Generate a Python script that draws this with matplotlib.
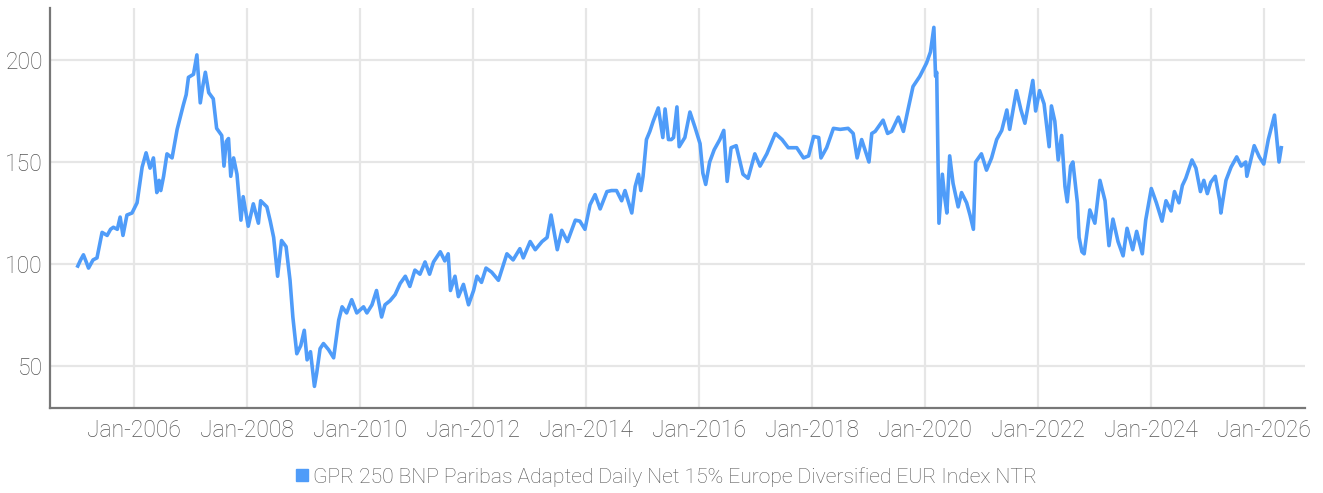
import datetime as dt
import matplotlib
matplotlib.use("Agg")
import matplotlib.pyplot as plt
import matplotlib.dates as mdates
from matplotlib.lines import Line2D

series_name = "GPR 250 BNP Paribas Adapted Daily Net 15% Europe Diversified EUR Index NTR"

years = [
    2005.00, 2005.05, 2005.10, 2005.15, 2005.19, 2005.27, 2005.34, 2005.43, 2005.52, 2005.58,
    2005.63, 2005.70, 2005.75, 2005.80, 2005.87, 2005.96, 2006.05, 2006.14, 2006.21, 2006.28,
    2006.34, 2006.40, 2006.44, 2006.47, 2006.52, 2006.58, 2006.67, 2006.76, 2006.87, 2006.92,
    2006.96, 2007.05, 2007.11, 2007.17, 2007.22, 2007.26, 2007.32, 2007.40, 2007.46, 2007.55,
    2007.59, 2007.63, 2007.67, 2007.71, 2007.76, 2007.82, 2007.89, 2007.93, 2008.02, 2008.11,
    2008.20, 2008.24, 2008.35, 2008.41, 2008.47, 2008.54, 2008.61, 2008.69, 2008.76, 2008.81,
    2008.88, 2008.95, 2009.01, 2009.06, 2009.12, 2009.19, 2009.23, 2009.29, 2009.35, 2009.44,
    2009.53, 2009.62, 2009.68, 2009.76, 2009.85, 2009.94, 2010.06, 2010.12, 2010.21, 2010.29,
    2010.38, 2010.44, 2010.53, 2010.62, 2010.71, 2010.80, 2010.88, 2010.97, 2011.06, 2011.15,
    2011.23, 2011.30, 2011.42, 2011.50, 2011.56, 2011.60, 2011.68, 2011.74, 2011.83, 2011.92,
    2012.01, 2012.07, 2012.15, 2012.23, 2012.33, 2012.45, 2012.60, 2012.71, 2012.83, 2012.89,
    2013.01, 2013.10, 2013.22, 2013.31, 2013.38, 2013.49, 2013.57, 2013.67, 2013.81, 2013.89,
    2013.98, 2014.07, 2014.16, 2014.25, 2014.37, 2014.45, 2014.54, 2014.63, 2014.69, 2014.81,
    2014.87, 2014.93, 2014.97, 2015.01, 2015.07, 2015.13, 2015.19, 2015.28, 2015.36, 2015.40,
    2015.46, 2015.51, 2015.55, 2015.61, 2015.65, 2015.75, 2015.84, 2015.93, 2016.02, 2016.07,
    2016.12, 2016.19, 2016.27, 2016.37, 2016.44, 2016.50, 2016.57, 2016.66, 2016.78, 2016.87,
    2016.99, 2017.08, 2017.20, 2017.35, 2017.47, 2017.58, 2017.73, 2017.85, 2017.94, 2018.03,
    2018.12, 2018.16, 2018.26, 2018.38, 2018.50, 2018.64, 2018.73, 2018.80, 2018.88, 2019.01,
    2019.06, 2019.12, 2019.26, 2019.34, 2019.41, 2019.53, 2019.62, 2019.70, 2019.79, 2019.91,
    2020.03, 2020.10, 2020.16, 2020.19, 2020.21, 2020.25, 2020.31, 2020.35, 2020.39, 2020.44,
    2020.50, 2020.59, 2020.65, 2020.74, 2020.80, 2020.86, 2020.90, 2021.00, 2021.09, 2021.18,
    2021.27, 2021.36, 2021.45, 2021.50, 2021.62, 2021.70, 2021.77, 2021.91, 2021.96, 2022.03,
    2022.11, 2022.20, 2022.24, 2022.30, 2022.36, 2022.42, 2022.48, 2022.52, 2022.58, 2022.62,
    2022.70, 2022.73, 2022.78, 2022.82, 2022.92, 2023.01, 2023.10, 2023.19, 2023.26, 2023.33,
    2023.42, 2023.51, 2023.58, 2023.68, 2023.75, 2023.85, 2023.91, 2024.01, 2024.10, 2024.20,
    2024.27, 2024.36, 2024.42, 2024.50, 2024.56, 2024.62, 2024.73, 2024.80, 2024.88, 2024.94,
    2025.00, 2025.06, 2025.14, 2025.22, 2025.24, 2025.33, 2025.42, 2025.52, 2025.60, 2025.68,
    2025.70, 2025.83, 2025.92, 2026.00, 2026.08, 2026.19, 2026.27, 2026.31,
]

values = [
    99, 102, 104.5, 101, 98, 102, 103, 115.5, 114, 117,
    118, 117, 123, 114, 124, 125, 130, 147.5, 154.5, 147,
    152, 135, 141, 136, 143, 154, 152, 166, 178, 183,
    191.5, 193, 202.5, 179, 188, 194, 184, 181, 166.5, 163,
    148, 160, 161.5, 143, 152, 144, 121.5, 133, 118.5, 129.5,
    120, 131, 128, 121, 113, 94, 111.5, 108.5, 92, 74,
    56, 60, 67.5, 53, 57, 40, 46.5, 58.5, 61, 58,
    54, 72.5, 79, 76, 82.5, 76, 79, 76, 80, 87,
    74, 80, 82, 85, 90.5, 94, 89, 97, 95, 101,
    95, 101, 106, 101.5, 105, 87, 94, 84, 90, 80,
    87, 94, 91, 98, 96, 92, 105, 102, 107.5, 103,
    111, 107, 111, 113, 124, 107, 116.5, 111, 121.5, 121,
    117, 129, 134, 127, 135.5, 136, 136, 131, 136, 125,
    138, 144, 136, 143, 161, 165, 170, 176.5, 162, 176,
    161, 161, 162, 177, 157.5, 162, 174.5, 167, 159, 144.5,
    139, 150, 156, 161, 165.5, 140.5, 157, 158, 144, 142,
    154, 148, 154, 164, 161, 157, 157, 152, 153, 162.5,
    162, 152, 157, 166.5, 166, 166.5, 164, 152, 161, 150,
    164, 165, 170.5, 164, 165, 172, 165, 175.5, 187, 192,
    198.5, 204, 216, 192, 194, 120, 144, 133, 125, 153,
    139.5, 128, 135, 130, 124, 117, 150, 154, 146, 152,
    161, 165.5, 175.5, 166, 185, 175.5, 169, 190, 175, 185,
    178.5, 157.5, 177.5, 170, 151, 163, 138, 130.5, 148, 150,
    130, 113, 106, 105, 126.5, 120, 141, 131, 109, 122,
    111, 104, 117.5, 107, 116, 105, 121.5, 137, 130, 121,
    131, 126, 135.5, 130, 138.5, 142, 151, 147, 135.5, 141,
    134.5, 140, 143, 131, 125, 141, 147.5, 152.5, 148, 150,
    143, 158, 152.5, 149, 161, 173, 150, 157,
]

y_ticks = [50, 100, 150, 200]
x_tick_years = [2006, 2008, 2010, 2012, 2014, 2016, 2018, 2020, 2022, 2024, 2026]


def to_date(y):
    yr = int(y)
    start = dt.datetime(yr, 1, 1)
    return start + dt.timedelta(days=(y - yr) * 365.25)


dates = [to_date(y) for y in years]

plt.rcParams['font.family'] = ['Roboto', 'DejaVu Sans']
plt.rcParams['font.weight'] = 'light'
TXT = '#555555'
LINE = '#4f9cf9'

fig = plt.figure(figsize=(13.23, 4.93), dpi=100)
ax = fig.add_axes([50 / 1323, 85 / 493, (1305 - 50) / 1323, (485 - 85) / 493])

ax.plot(dates, values, color=LINE, lw=2.6, solid_joinstyle='round', zorder=3)

ax.set_ylim(29.4, 225.5)
ax.set_xlim(to_date(2004.51), to_date(2026.73))
ax.set_yticks(y_ticks)
ax.set_xticks([dt.datetime(y, 1, 1) for y in x_tick_years])
ax.xaxis.set_major_formatter(mdates.DateFormatter('%b-%Y'))

ax.grid(True, color='#e6e6e6', lw=1.6, zorder=0)
ax.set_axisbelow(True)
for s in ['top', 'right']:
    ax.spines[s].set_visible(False)
for s in ['left', 'bottom']:
    ax.spines[s].set_color('#777777')
    ax.spines[s].set_linewidth(1.6)
ax.tick_params(axis='both', length=0, labelsize=16.5, colors=TXT)
ax.tick_params(axis='y', pad=5)
ax.tick_params(axis='x', pad=8)

handle = Line2D([], [], marker='s', ls='none', color=LINE, markersize=8)
fig.legend([handle], [series_name], loc='center', bbox_to_anchor=(0.503, 16 / 493),
           frameon=False, fontsize=15.2, labelcolor=TXT, handletextpad=0.1,
           handlelength=0.8, borderaxespad=0)

fig.savefig('out.png', dpi=100)
